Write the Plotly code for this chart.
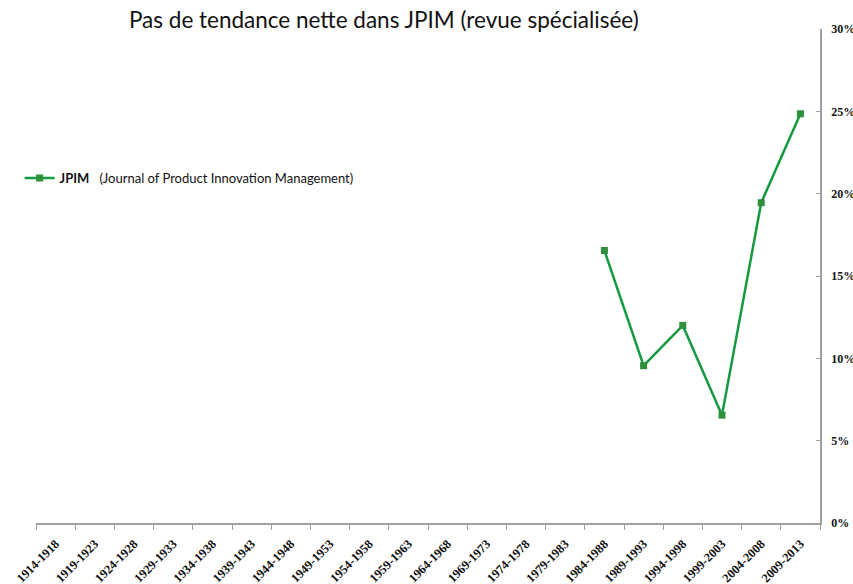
import plotly.graph_objects as go

categories = ["1914-1918", "1919-1923", "1924-1928", "1929-1933", "1934-1938",
              "1939-1943", "1944-1948", "1949-1953", "1954-1958", "1959-1963",
              "1964-1968", "1969-1973", "1974-1978", "1979-1983", "1984-1988",
              "1989-1993", "1994-1998", "1999-2003", "2004-2008", "2009-2013"]
jpim_values = [None] * 14 + [16.55, 9.55, 12.0, 6.55, 19.45, 24.85]
y_ticks = [0, 5, 10, 15, 20, 25, 30]

fig = go.Figure()
fig.add_trace(go.Scatter(
    x=categories, y=jpim_values, mode="lines+markers",
    name="<b>JPIM</b>   (Journal of Product Innovation Management)",
    line=dict(color="#159a41", width=2.5),
    marker=dict(symbol="square", size=7, color="#2f8f3a"),
    connectgaps=False,
))

fig.update_layout(
    width=853, height=584,
    paper_bgcolor="white", plot_bgcolor="white",
    margin=dict(l=36, r=33, t=29, b=61, autoexpand=False),
    title=dict(text="Pas de tendance nette dans JPIM (revue spécialisée)",
               x=0.45, xanchor="center", y=0.966, yanchor="middle",
               xref="container", yref="container",
               font=dict(family="Lato", size=22.5, color="#111111")),
    showlegend=True,
    legend=dict(xref="container", yref="container", x=0.023, y=0.695,
                xanchor="left", yanchor="middle",
                font=dict(family="Lato", size=13, color="#111111"),
                bgcolor="rgba(0,0,0,0)", itemwidth=30),
    xaxis=dict(type="category", categoryorder="array", categoryarray=categories,
               range=[-0.5, len(categories) - 0.5], automargin=False,
               tickson="boundaries", ticks="outside", ticklen=5, tickcolor="#a0a0a0",
               showline=True, linecolor="#a0a0a0", linewidth=1.5,
               showgrid=False, zeroline=False, tickangle=-45, ticklabelstandoff=7,
               tickfont=dict(family="Liberation Serif", size=12.5, color="#111111", weight="bold")),
    yaxis=dict(side="right", range=[0, 30], tickvals=y_ticks, automargin=False,
               ticktext=[f"{v}%" for v in y_ticks],
               ticks="inside", ticklen=4, tickcolor="#a0a0a0",
               showline=True, linecolor="#a0a0a0", linewidth=1.5,
               showgrid=False, zeroline=False, ticklabelstandoff=7,
               tickfont=dict(family="Liberation Serif", size=12, color="#111111", weight="bold")),
)

fig.write_html("out.html", config={"displayModeBar": False},
               post_script="document.body.style.margin='0';")
